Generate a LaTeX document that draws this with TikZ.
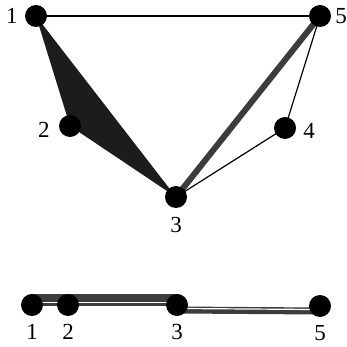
\documentclass[tikz,border=0pt]{standalone}
\usepackage{fontspec}
\setmainfont{Liberation Serif}
\usetikzlibrary{positioning}
\definecolor{trifill}{HTML}{1C1C1C}
\definecolor{bandgray}{HTML}{3C3C3C}

\begin{document}
\begin{tikzpicture}[x=1pt,y=-1pt,
  font=\fontsize{23}{23}\selectfont,
  vtx/.style={circle,fill=black,inner sep=0pt,minimum size=22pt},
  lab/.style={inner sep=1pt},
  edge/.style={line width=1.2pt},
  heavy/.style={line width=6pt,color=bandgray,line cap=round}]
  \useasboundingbox (0,0) rectangle (346,347);
  % upper drawing
  \coordinate (c1) at (36,16);
  \coordinate (c2) at (70,126);
  \coordinate (c3) at (176,197);
  \coordinate (c4) at (285,128);
  \coordinate (c5) at (320,16);
  \fill[trifill] (c1) -- (c2) -- (c3) -- cycle;
  \draw[edge] (c1) -- (c5);
  \draw[edge] (c5) -- (c4);
  \draw[edge] (c4) -- (c3);
  \draw[heavy] (c3) -- (c5);
  \node[vtx] (t1) at (c1) {};
  \node[vtx] (t2) at (c2) {};
  \node[vtx] (t3) at (c3) {};
  \node[vtx] (t4) at (c4) {};
  \node[vtx] (t5) at (c5) {};
  \node[lab,left=6pt of t1]  (l1) {1};
  \node[lab,left=8pt of t2,yshift=-4pt] (l2) {2};
  \node[lab,below=8pt of t3] (l3) {3};
  \node[lab,right=6pt of t4,yshift=-3pt] (l4) {4};
  \node[lab,right=3pt of t5] (l5) {5};
  % lower drawing, seen edge-on
  \coordinate (b1) at (32,305);
  \coordinate (b2) at (68,305);
  \coordinate (b3) at (177,305);
  \coordinate (b5) at (320,306);
  \draw[bandgray,line width=12pt,line cap=round] ([yshift=5pt]b1) -- ([yshift=5pt]b3);
  \draw[white,line width=1.3pt] ([xshift=6pt,yshift=2.5pt]b1) -- ([xshift=-6pt,yshift=2.5pt]b3);
  \draw[bandgray,line width=7pt,line cap=round] ([yshift=-5pt]b3) -- ([yshift=-5pt]b5);
  \draw[white,line width=1.2pt] ([xshift=6pt,yshift=-3.5pt]b3) -- ([xshift=-6pt,yshift=-3.5pt]b5);
  \node[vtx] (v1) at (b1) {};
  \node[vtx] (v2) at (b2) {};
  \node[vtx] (v3) at (b3) {};
  \node[vtx] (v5) at (b5) {};
  \node[lab,below=7pt of v1] {1};
  \node[lab,below=7pt of v2] {2};
  \node[lab,below=7pt of v3] {3};
  \node[lab,below=7pt of v5] {5};
\end{tikzpicture}
\end{document}
